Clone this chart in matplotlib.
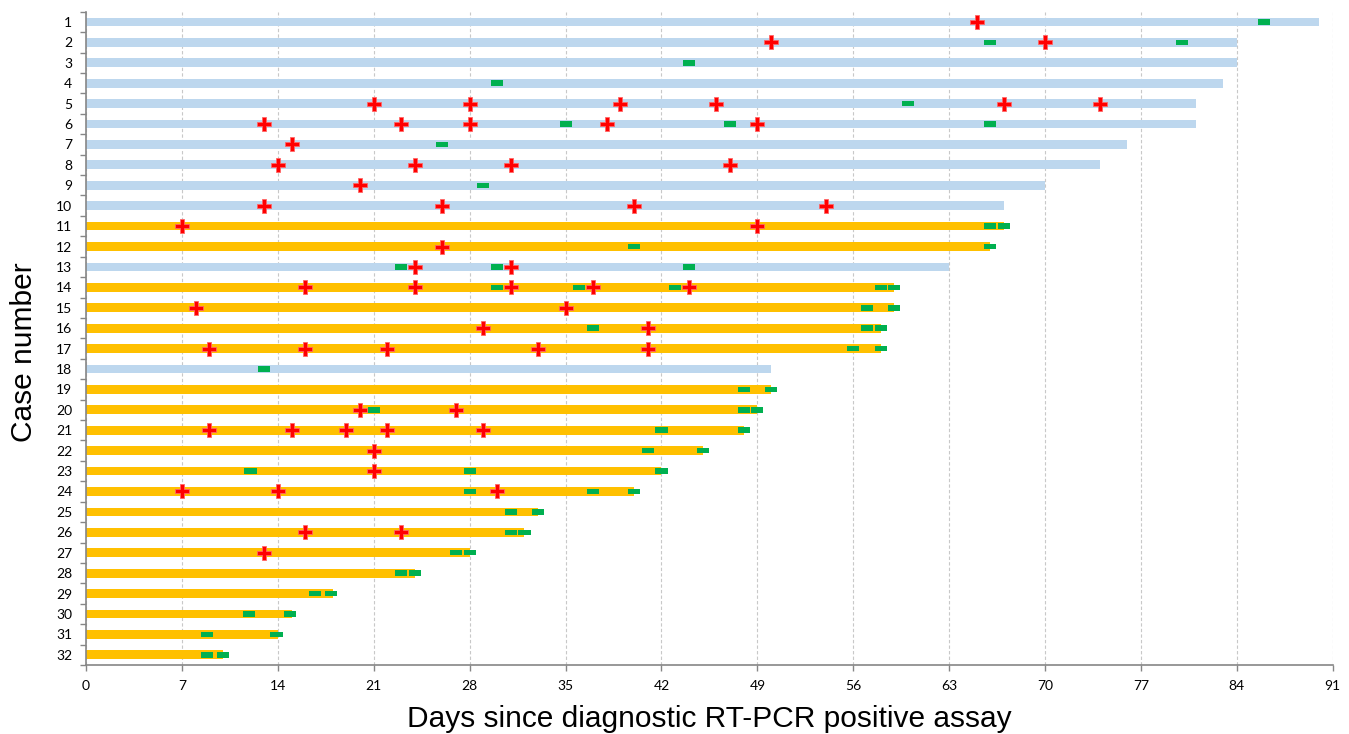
import matplotlib
matplotlib.use('Agg')
import matplotlib.pyplot as plt
import numpy as np

# Case numbers and days of follow-up (bar length)
cases = list(range(1, 33))
follow_up_days = [90, 84, 84, 83, 81, 81, 76, 74, 70, 67, 67, 66, 63, 59, 59, 58,
                  58, 50, 50, 49, 48, 45, 42, 40, 33, 32, 28, 24, 18, 15, 14, 10]

# Cases drawn in light blue, the rest in orange
blue_cases = [1, 2, 3, 4, 5, 6, 7, 8, 9, 10, 13, 18]

# Red crosses, one list per case
cross_days = [
    [65], [50, 70], [], [], [21, 28, 39, 46, 67, 74], [13, 23, 28, 38, 49],
    [15], [14, 24, 31, 47], [20], [13, 26, 40, 54], [7, 49], [26], [24, 31],
    [16, 24, 31, 37, 44], [8, 35], [29, 41], [9, 16, 22, 33, 41], [], [],
    [20, 27], [9, 15, 19, 22, 29], [21], [21], [7, 14, 30], [], [16, 23], [13],
    [], [], [], [], [],
]

# Green marks, one list per case
green_days = [
    [86], [66, 80], [44], [30], [60], [35, 47, 66], [26], [], [29], [],
    [66, 67], [40, 66], [23, 30, 44], [30, 36, 43, 58, 59], [57, 59],
    [37, 57, 58], [56, 58], [13], [48, 50], [21, 48, 49], [42, 48], [41, 45],
    [12, 28, 42], [28, 37, 40], [31, 33], [31, 32], [27, 28], [23, 24],
    [16.7, 17.9], [11.9, 14.9], [8.8, 13.9], [8.8, 10],
]

x_ticks = list(range(0, 92, 7))

BLUE = '#BDD7EE'
ORANGE = '#FFC000'
GREEN = '#00B050'
RED = '#FF0000'


def plot_timeline(savefig=True):
    '''
    Draw one horizontal bar per case with red crosses and green marks on it.

    Args:
        savefig (bool) : Save figure?

    Returns:
        NoneType
    '''
    fig = plt.figure(figsize=(13.49, 7.34), dpi=100)
    ax = fig.add_axes([0.0638, 0.094, 0.9242, 0.890])

    colors = [BLUE if c in blue_cases else ORANGE for c in cases]
    ax.barh(cases, follow_up_days, height=0.43, color=colors, zorder=2)

    # Green marks as small bars centred on the day
    gy, gx = [], []
    for c, days in zip(cases, green_days):
        for d in days:
            gy.append(c)
            gx.append(d)
    gx = np.array(gx)
    ax.barh(gy, [0.88] * len(gx), left=gx - 0.44, height=0.27, color=GREEN, zorder=3)

    # Red crosses
    ry, rx = [], []
    for c, days in zip(cases, cross_days):
        for d in days:
            ry.append(c)
            rx.append(d)
    ax.plot(rx, ry, linestyle='none', marker='P', markersize=9.5, color=RED,
            markeredgecolor='#FF6666', markeredgewidth=0.6, zorder=4)

    ax.set_xlim(0, 91)
    ax.set_ylim(32.5, 0.5)

    ax.set_xticks(x_ticks)
    ax.set_xticklabels([str(t) for t in x_ticks], fontfamily='Lato', fontsize=10)
    ax.set_yticks(cases)
    ax.set_yticklabels([str(c) for c in cases], fontfamily='Lato', fontsize=10)
    ax.set_yticks(np.arange(0.5, 33, 1), minor=True)

    ax.tick_params(axis='y', which='major', length=0, pad=10)
    ax.tick_params(axis='y', which='minor', length=4, color='#868686', width=1)
    ax.tick_params(axis='x', which='major', length=4, color='#868686', width=1, pad=7)

    ax.xaxis.grid(True, linestyle=(0, (3, 2)), color='#C8C8C8', linewidth=0.8, zorder=0)
    ax.set_axisbelow(True)

    for side in ['top', 'right']:
        ax.spines[side].set_visible(False)
    for side in ['left', 'bottom']:
        ax.spines[side].set_color('#868686')
        ax.spines[side].set_linewidth(1.2)

    ax.set_xlabel('Days since diagnostic RT-PCR positive assay',
                  fontfamily='Liberation Sans', fontsize=21.5, labelpad=9)
    fig.text(0.0175, 0.52, 'Case number', rotation=90, ha='center', va='center',
             fontfamily='Liberation Sans', fontsize=21.5)

    if savefig:
        plt.savefig('out.png', dpi=100)


plot_timeline()
